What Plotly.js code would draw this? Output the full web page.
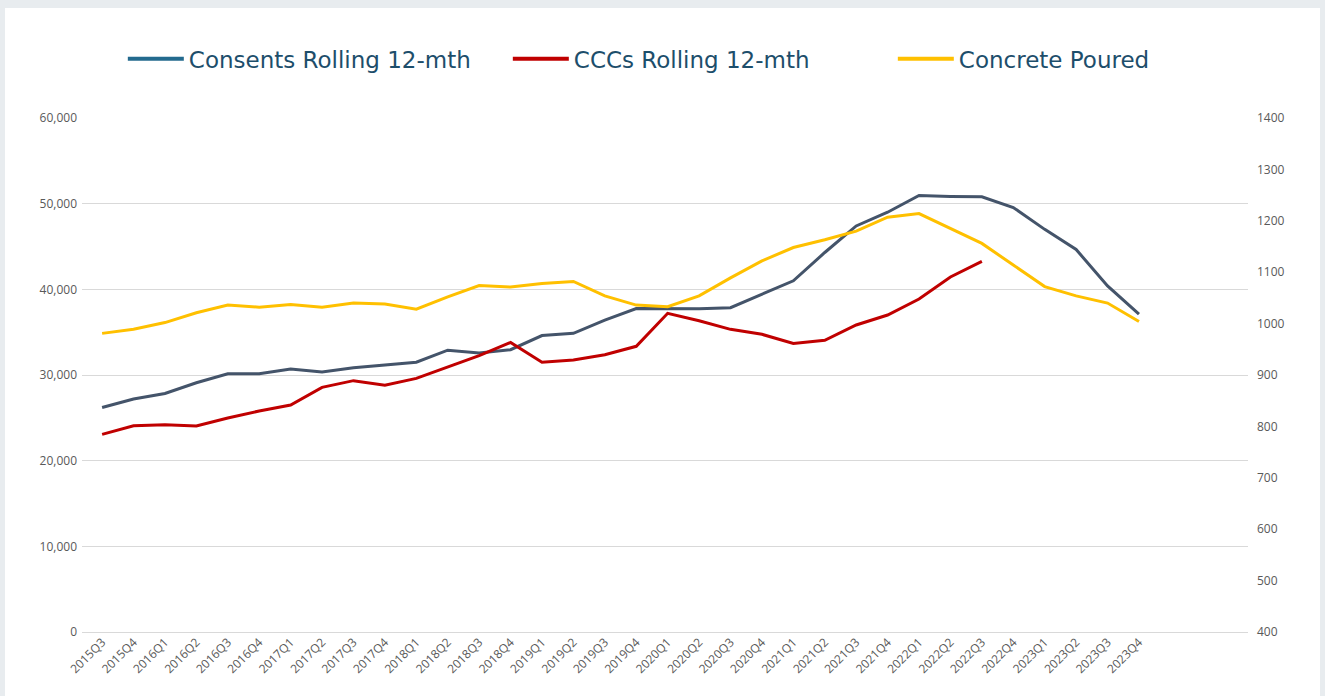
<!DOCTYPE html>
<html>
<head>
<meta charset="utf-8">
<script src="https://cdn.plot.ly/plotly-3.0.1.min.js"></script>
<style>
  html, body { margin: 0; padding: 0; background: #e8ecef; width: 1325px; height: 696px; overflow: hidden; }
  #card { position: absolute; left: 5px; top: 8px; width: 1315px; height: 688px; background: #ffffff; }
  #chart { width: 1315px; height: 688px; }
</style>
</head>
<body>
<div id="card"><div id="chart"></div></div>
<script>
const quarters = ["2015Q3","2015Q4","2016Q1","2016Q2","2016Q3","2016Q4","2017Q1","2017Q2","2017Q3","2017Q4",
  "2018Q1","2018Q2","2018Q3","2018Q4","2019Q1","2019Q2","2019Q3","2019Q4","2020Q1","2020Q2",
  "2020Q3","2020Q4","2021Q1","2021Q2","2021Q3","2021Q4","2022Q1","2022Q2","2022Q3","2022Q4",
  "2023Q1","2023Q2","2023Q3","2023Q4"];

const consents = [26200,27200,27850,29100,30150,30150,30700,30350,30850,31200,
  31500,32900,32570,32950,34600,34860,36400,37750,37740,37740,
  37860,39400,41000,44300,47400,49000,50950,50850,50800,49550,
  47000,44650,40400,37100];

const cccs = [23070,24080,24200,24050,24980,25800,26500,28560,29340,28800,
  29600,30900,32260,33800,31480,31750,32370,33350,37200,36340,
  35330,34750,33680,34050,35840,37000,38870,41440,43270,null,
  null,null,null,null];

const concrete = [981,989,1002,1021,1036,1032,1037,1032,1040,1038,
  1028,1052,1074,1071,1078,1082,1054,1036,1033,1054,
  1089,1122,1148,1163,1180,1207,1214,1185,1156,1114,
  1072,1054,1040,1004];

const seriesNames = ["Consents Rolling 12-mth","CCCs Rolling 12-mth","Concrete Poured"];
const lineColors = ["#44546a","#c00000","#ffc000"];
const legendColors = ["#236a8e","#c00000","#ffc000"];

const traces = [
  {x: quarters, y: consents, type: "scatter", mode: "lines", name: seriesNames[0],
   line: {color: lineColors[0], width: 3}, showlegend: false, yaxis: "y"},
  {x: quarters, y: cccs, type: "scatter", mode: "lines", name: seriesNames[1],
   line: {color: lineColors[1], width: 3}, showlegend: false, yaxis: "y", connectgaps: false},
  {x: quarters, y: concrete, type: "scatter", mode: "lines", name: seriesNames[2],
   line: {color: lineColors[2], width: 3}, showlegend: false, yaxis: "y2"}
];
for (let k = 0; k < 3; k++) {
  traces.push({x: [null], y: [null], type: "scatter", mode: "lines", name: seriesNames[k],
    line: {color: legendColors[k], width: 4}, showlegend: true, hoverinfo: "skip"});
}

const tickFont = {family: "Open Sans, Liberation Sans, sans-serif", size: 12, color: "#595959"};

const layout = {
  width: 1315, height: 688,
  margin: {l: 77, r: 72, t: 110, b: 64},
  paper_bgcolor: "#ffffff", plot_bgcolor: "#ffffff",
  showlegend: true,
  legend: {
    orientation: "h", xref: "container", yref: "container",
    x: 0.0896, xanchor: "left", y: 0.926, yanchor: "middle",
    font: {family: "DejaVu Sans, sans-serif", size: 23, color: "#1d4e6b"},
    itemwidth: 56, entrywidth: 314, entrywidthmode: "pixels",
    tracegroupgap: 0, bgcolor: "rgba(0,0,0,0)"
  },
  xaxis: {
    type: "category", categoryorder: "array", categoryarray: quarters,
    range: [-0.64, 36.47], showgrid: false, showline: false, zeroline: false,
    ticks: "", tickangle: -45, tickfont: tickFont, fixedrange: true
  },
  yaxis: {
    range: [0, 60000], dtick: 10000, tickformat: ",d",
    showgrid: true, gridcolor: "#d9d9d9", gridwidth: 1,
    zeroline: true, zerolinecolor: "#d9d9d9", zerolinewidth: 1,
    showline: false, ticks: "", tickfont: tickFont, ticklabelstandoff: 4
  },
  yaxis2: {
    overlaying: "y", side: "right", range: [400, 1400], dtick: 100,
    showgrid: false, zeroline: false, showline: false, ticks: "",
    tickfont: tickFont, ticklabelstandoff: 8
  }
};

Plotly.newPlot("chart", traces, layout, {displayModeBar: false, staticPlot: true});
</script>
</body>
</html>
